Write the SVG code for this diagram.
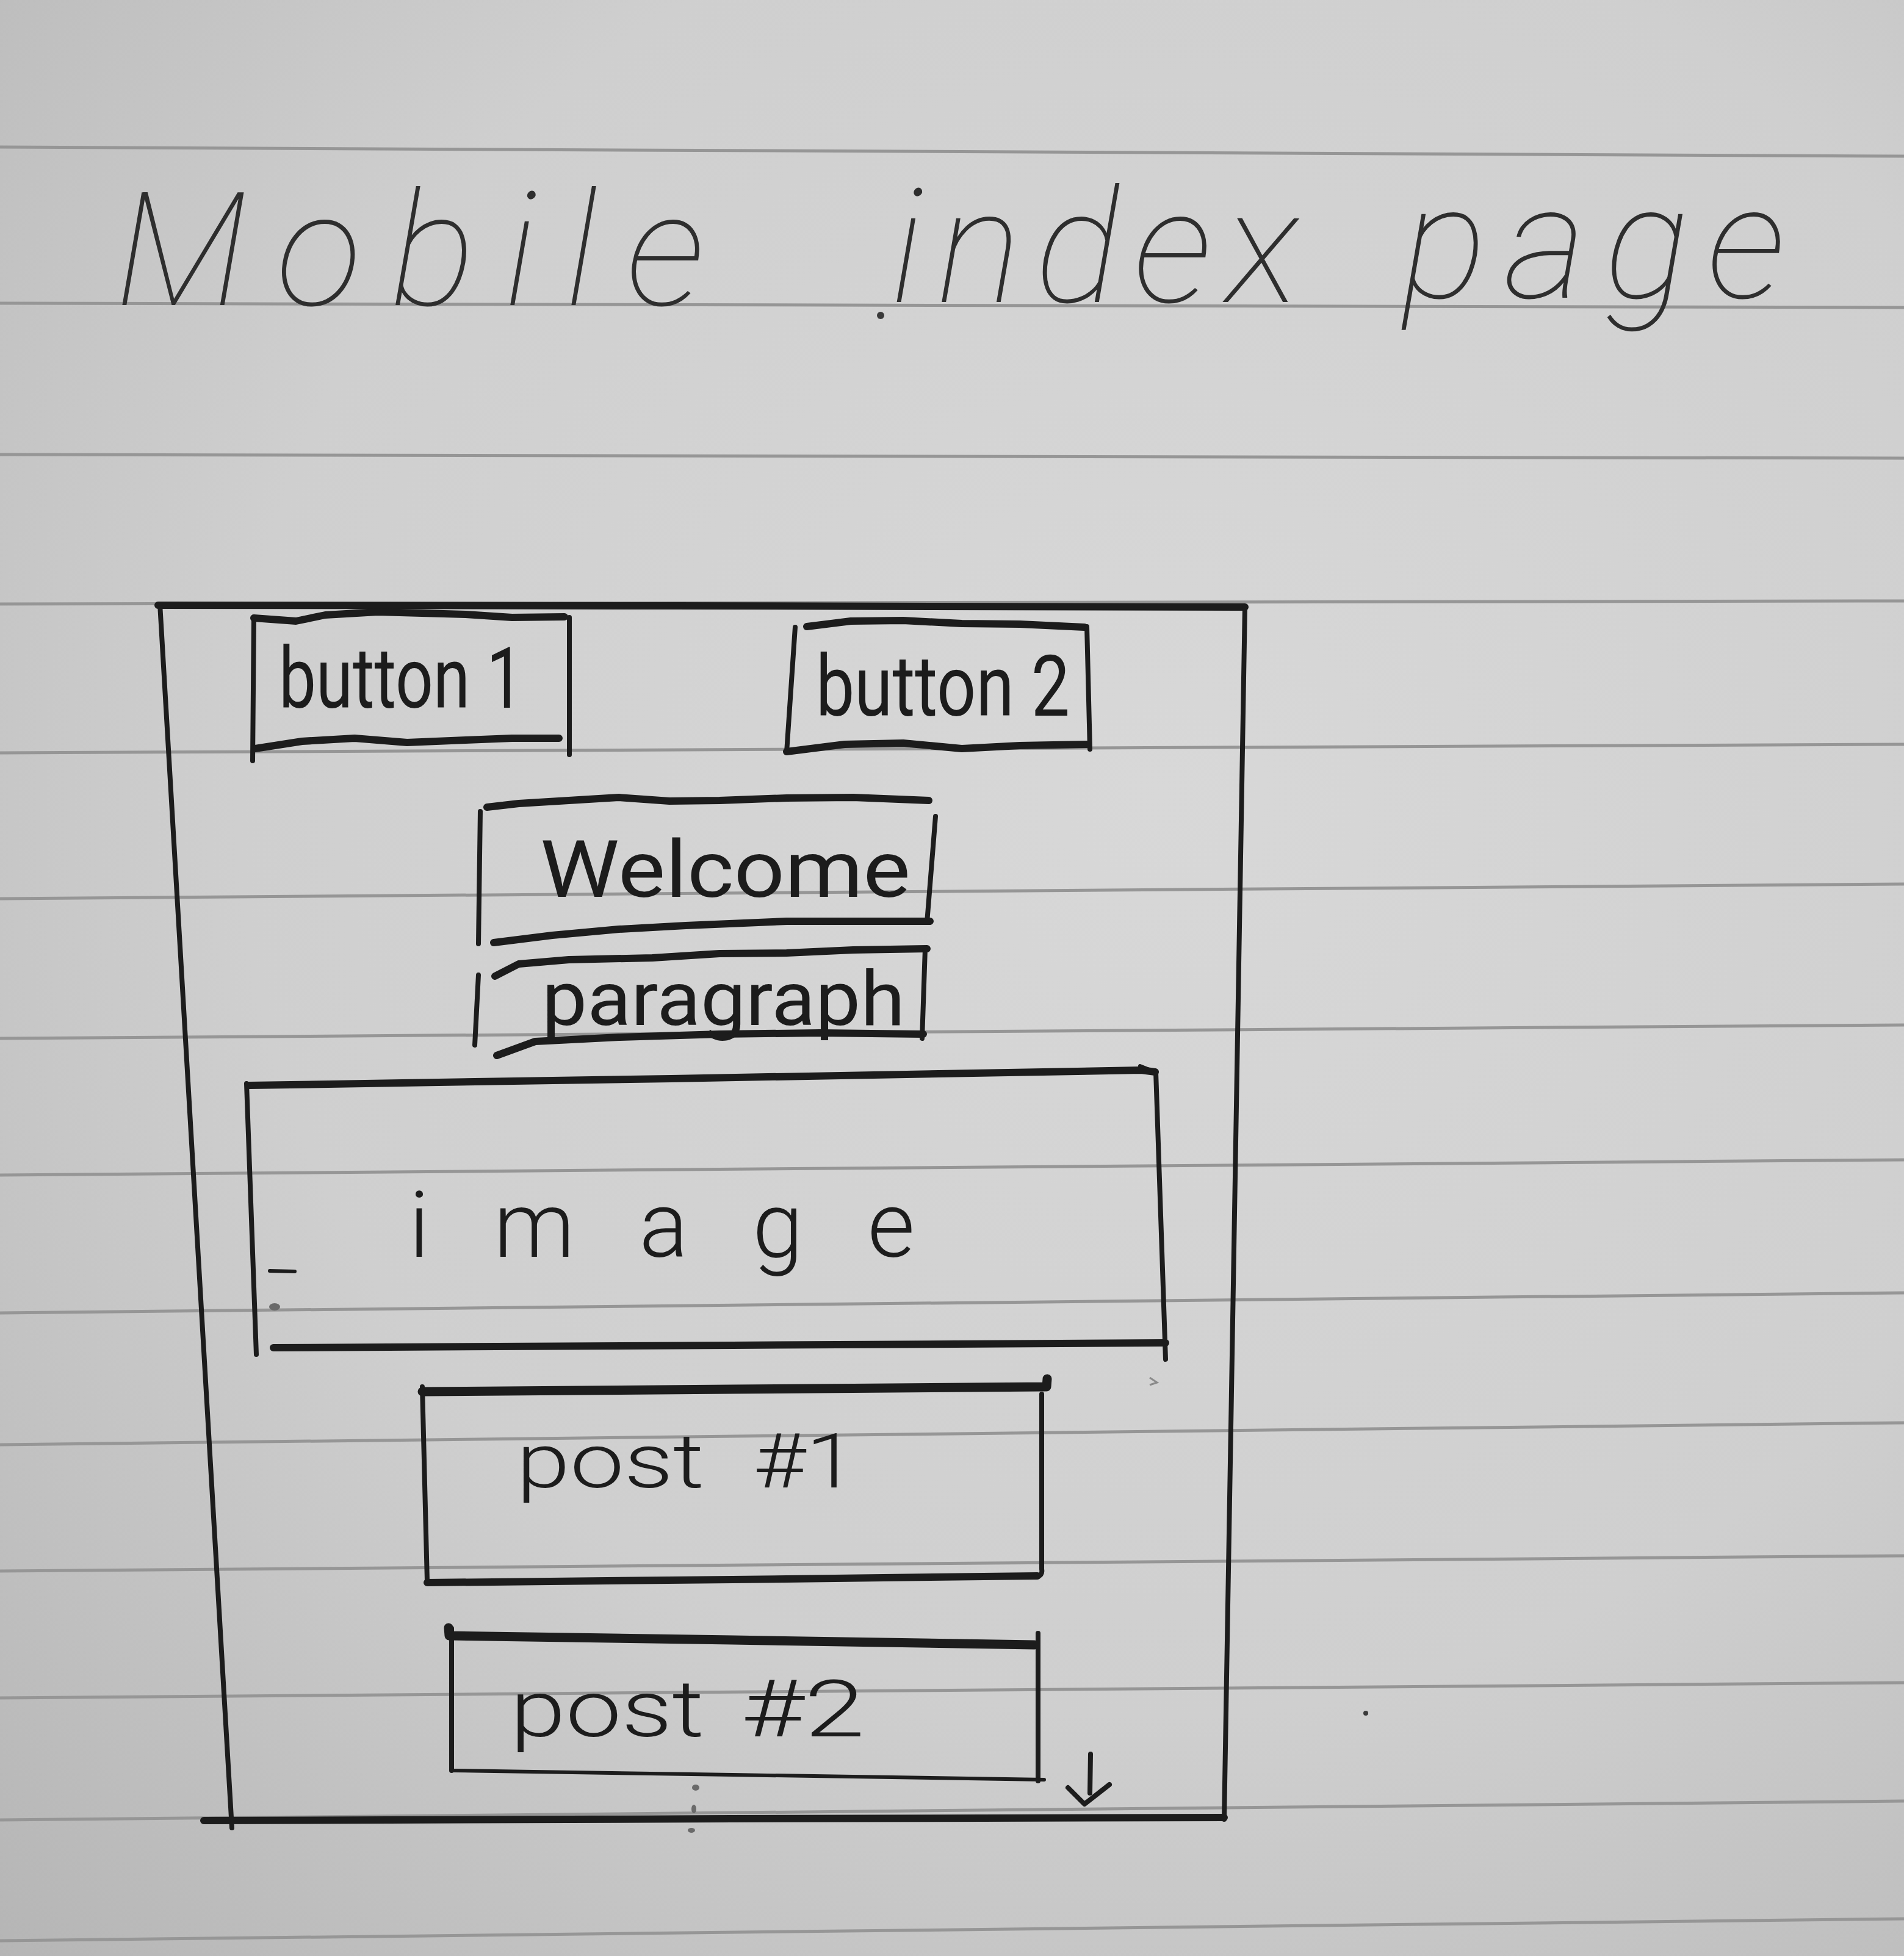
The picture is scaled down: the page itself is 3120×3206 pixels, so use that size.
<svg xmlns="http://www.w3.org/2000/svg" width="3120" height="3206" viewBox="0 0 3120 3206">
  <defs>
    <radialGradient id="paper" gradientUnits="userSpaceOnUse" cx="1900" cy="1300" r="2750">
      <stop offset="0" stop-color="#d8d8d8"/>
      <stop offset="0.55" stop-color="#cfcfcf"/>
      <stop offset="1" stop-color="#b4b4b4"/>
    </radialGradient>
    <style>
      .rule { stroke: #969696; stroke-width: 5; fill: none; }
      .ink { stroke: #1c1c1c; fill: none; stroke-linecap: round; stroke-linejoin: round; }
      .side { stroke-width: 8; }
      .thick { stroke-width: 12; }
      .heavy { stroke-width: 15; }
      .thin { stroke-width: 6; }
      .label { font-family: Roboto, "Open Sans", "Liberation Sans", sans-serif; font-weight: 400; fill: #1c1c1c; }
      .light { font-weight: 300; }
      .title { font-family: Roboto, "Open Sans", "Liberation Sans", sans-serif; font-weight: 100; font-style: italic; fill: #2e2e2e; font-size: 260px; }
      .speck { fill: #3a3a3a; }
      .faint { fill: #6a6a6a; }
    </style>
  </defs>

  <!-- notebook page -->
  <rect width="3120" height="3206" fill="url(#paper)"/>
  <g id="ruling">
    <path class="rule" d="M0,241 L3120,256"/>
    <path class="rule" d="M0,497 L3120,504"/>
    <path class="rule" d="M0,745 L3120,751"/>
    <path class="rule" d="M0,990 L3120,985"/>
    <path class="rule" d="M0,1234 L3120,1220"/>
    <path class="rule" d="M0,1473 L3120,1449"/>
    <path class="rule" d="M0,1702 L3120,1680"/>
    <path class="rule" d="M0,1926 L3120,1901"/>
    <path class="rule" d="M0,2152 L3120,2119"/>
    <path class="rule" d="M0,2368 L3120,2332"/>
    <path class="rule" d="M0,2575 L3120,2550"/>
    <path class="rule" d="M0,2783 L3120,2758"/>
    <path class="rule" d="M0,2983 L3120,2952"/>
    <path class="rule" d="M0,3181 L3120,3145"/>
  </g>

  <!-- heading -->
  <g id="title">
    <text class="title"><tspan x="189" y="500" textLength="965" lengthAdjust="spacing">Mobile</tspan> <tspan x="1460" y="495" textLength="669" lengthAdjust="spacing">index</tspan> <tspan x="2298" y="488" textLength="627" lengthAdjust="spacing">page</tspan></text>
    <circle class="speck" cx="1443" cy="517" r="6"/>
  </g>

  <!-- phone outline -->
  <g id="phone-frame">
    <path class="ink thick" d="M259,992 L1100,993 L2040,995"/>
    <path class="ink side" d="M2040,994 L2006,2982"/>
    <path class="ink thick" d="M334,2984 L1200,2981 L2006,2979"/>
    <path class="ink side" d="M262,990 L380,2996"/>
  </g>

  <g id="button1">
    <path class="ink side" d="M416,1013 L414,1247"/>
    <path class="ink thick" d="M416,1013 L485,1018 L533,1008 L619,1003 L763,1007 L839,1012 L925,1011"/>
    <path class="ink side" d="M933,1012 L933,1237"/>
    <path class="ink thick" d="M418,1227 L495,1215 L581,1210 L667,1217 L763,1213 L839,1210 L916,1210"/>
    <text class="label" x="457" y="1160" font-size="140" textLength="401" lengthAdjust="spacingAndGlyphs">button 1</text>
  </g>

  <g id="button2">
    <path class="ink side" d="M1303,1028 L1289,1233"/>
    <path class="ink thick" d="M1322,1027 L1394,1018 L1480,1017 L1576,1022 L1671,1023 L1777,1028"/>
    <path class="ink side" d="M1781,1027 L1786,1228"/>
    <path class="ink thick" d="M1289,1232 L1384,1220 L1480,1218 L1576,1227 L1671,1222 L1781,1220"/>
    <text class="label" x="1337" y="1173" font-size="140" textLength="416" lengthAdjust="spacingAndGlyphs">button 2</text>
  </g>

  <g id="welcome">
    <path class="ink thick" d="M798,1323 L850,1317 L932,1312 L1014,1307 L1097,1313 L1179,1312 L1289,1308 L1398,1307 L1522,1312"/>
    <path class="ink side" d="M787,1330 L784,1547"/>
    <path class="ink side" d="M1533,1338 L1519,1512"/>
    <path class="ink thick" d="M809,1545 L905,1533 L1014,1523 L1124,1517 L1289,1510 L1524,1510"/>
    <text class="label" x="885" y="1470" font-size="130" textLength="607" lengthAdjust="spacingAndGlyphs">Welcome</text>
  </g>

  <g id="paragraph">
    <path class="ink side" d="M784,1598 L778,1713"/>
    <path class="ink thick" d="M811,1600 L850,1580 L932,1573 L1069,1570 L1179,1563 L1289,1562 L1398,1557 L1519,1555"/>
    <path class="ink side" d="M1516,1555 L1511,1702"/>
    <path class="ink thick" d="M814,1730 L877,1707 L1014,1700 L1179,1695 L1343,1693 L1513,1695"/>
    <text class="label" x="888" y="1680" font-size="125" textLength="595" lengthAdjust="spacingAndGlyphs">paragraph</text>
  </g>

  <g id="image">
    <path class="ink thick" d="M408,1779 L1100,1768 L1870,1754 L1893,1757"/>
    <path class="ink thin" d="M1868,1747 L1893,1757"/>
    <path class="ink side" d="M404,1776 L420,2220"/>
    <path class="ink side" d="M1894,1757 L1910,2228"/>
    <path class="ink thick" d="M448,2209 L1200,2205 L1910,2201"/>
    <path class="ink thin" d="M442,2083 L483,2084"/>
    <ellipse class="faint" cx="450" cy="2142" rx="9" ry="6"/>
    <text class="label light" x="670" y="2060" font-size="150" textLength="829" lengthAdjust="spacing">image</text>
  </g>

  <g id="post1">
    <path class="ink heavy" d="M692,2281 L1200,2277 L1715,2273 L1716,2260"/>
    <path class="ink side" d="M692,2273 L700,2592"/>
    <path class="ink side" d="M1707,2285 L1707,2572 Q1709,2583 1698,2584"/>
    <path class="ink thick" d="M700,2594 L1200,2589 L1700,2583"/>
    <text class="label light" font-size="125"><tspan x="846" y="2438" textLength="308" lengthAdjust="spacingAndGlyphs">post</tspan> <tspan x="1234" y="2438" textLength="169" lengthAdjust="spacingAndGlyphs">#1</tspan></text>
  </g>

  <g id="post2">
    <path class="ink heavy" d="M735,2668 L736,2681 L1200,2688 L1695,2696"/>
    <path class="ink side" d="M740,2669 L740,2902"/>
    <path class="ink side" d="M1701,2677 L1701,2919"/>
    <path class="ink thin" d="M740,2902 L1200,2909 L1711,2917"/>
    <text class="label light" font-size="130"><tspan x="836" y="2846" textLength="318" lengthAdjust="spacingAndGlyphs">post</tspan> <tspan x="1214" y="2846" textLength="203" lengthAdjust="spacingAndGlyphs">#2</tspan></text>
  </g>

  <!-- scroll hint: arrow and dots under the last post -->
  <g id="connectors">
    <path class="ink side" d="M1787,2875 L1786,2939"/>
    <path class="ink side" d="M1750,2930 L1777,2957 L1818,2925"/>
    <ellipse class="faint" cx="1140" cy="2930" rx="6" ry="5"/>
    <ellipse class="faint" cx="1137" cy="2965" rx="4" ry="7"/>
    <ellipse class="faint" cx="1133" cy="3000" rx="6" ry="4"/>
  </g>

  <!-- stray pen marks -->
  <g id="marks">
    <path d="M1884,2258 L1896,2266 L1884,2270" fill="none" stroke="#8a8a8a" stroke-width="3"/>
    <circle class="speck" cx="2238" cy="2808" r="4"/>
  </g>
</svg>
